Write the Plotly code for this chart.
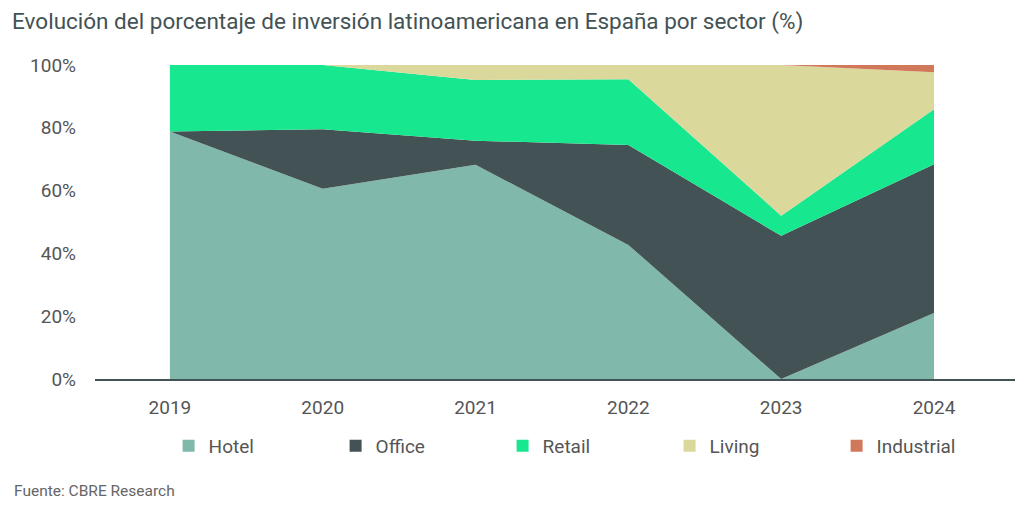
import plotly.graph_objects as go

years = ["2019", "2020", "2021", "2022", "2023", "2024"]
hotel = [78.8, 60.6, 68.2, 42.7, 0.0, 21.0]
office = [0.0, 18.9, 7.7, 31.8, 45.6, 47.4]
retail = [21.2, 20.5, 19.3, 21.0, 6.4, 17.5]
living = [0.0, 0.0, 4.8, 4.5, 48.0, 11.8]
industrial = [0.0, 0.0, 0.0, 0.0, 0.0, 2.3]

series = [
    ("Hotel", hotel, "#80B9AB"),
    ("Office", office, "#435254"),
    ("Retail", retail, "#17E88F"),
    ("Living", living, "#DBD89C"),
    ("Industrial", industrial, "#D2785A"),
]

fig = go.Figure()
for name, vals, color in series:
    fig.add_trace(go.Scatter(
        x=years, y=vals, name=name, mode="lines",
        stackgroup="one", line=dict(width=0, color=color),
        fillcolor=color, showlegend=False, legendgroup=name,
    ))
# legend entries with square swatches
for name, vals, color in series:
    fig.add_trace(go.Scatter(
        x=[None], y=[None], name=name, mode="markers",
        marker=dict(symbol="square", size=13, color=color),
        showlegend=True, legendgroup=name,
    ))

font_family = "Roboto"
fig.update_layout(
    width=1024, height=510,
    margin=dict(l=87, r=17, t=57, b=139),
    paper_bgcolor="white", plot_bgcolor="white",
    font=dict(family=font_family, color="#555555"),
    title=dict(
        text="Evolución del porcentaje de inversión latinoamericana en España por sector (%)",
        x=0.004, xref="container", xanchor="left", y=0.975, yanchor="middle",
        font=dict(size=22.5, color="#435254", family=font_family),
    ),
    xaxis=dict(
        type="category", range=[-0.49, 5.53],
        showgrid=False, showline=True, linecolor="#435254", linewidth=2,
        ticks="", tickfont=dict(size=19, color="#555555"), ticklabelstandoff=10,
    ),
    yaxis=dict(
        range=[0, 100], tickvals=[0, 20, 40, 60, 80, 100],
        ticktext=["0%", "20%", "40%", "60%", "80%", "100%"],
        showgrid=False, zeroline=False, showline=False,
        tickfont=dict(size=19, color="#555555"), ticklabelstandoff=18,
    ),
    legend=dict(
        orientation="h", x=0.08, xanchor="left",
        y=-0.213, yanchor="middle",
        font=dict(size=19, color="#555555"), entrywidth=122, entrywidthmode="pixels",
        traceorder="normal", itemsizing="constant",
    ),
    showlegend=True,
)
fig.add_annotation(
    text="Fuente: CBRE Research", xref="paper", yref="paper",
    x=-0.0903, y=-0.357, xanchor="left", yanchor="middle", showarrow=False,
    font=dict(size=15.5, color="#666666", family=font_family),
)
fig.write_html("out.html")
